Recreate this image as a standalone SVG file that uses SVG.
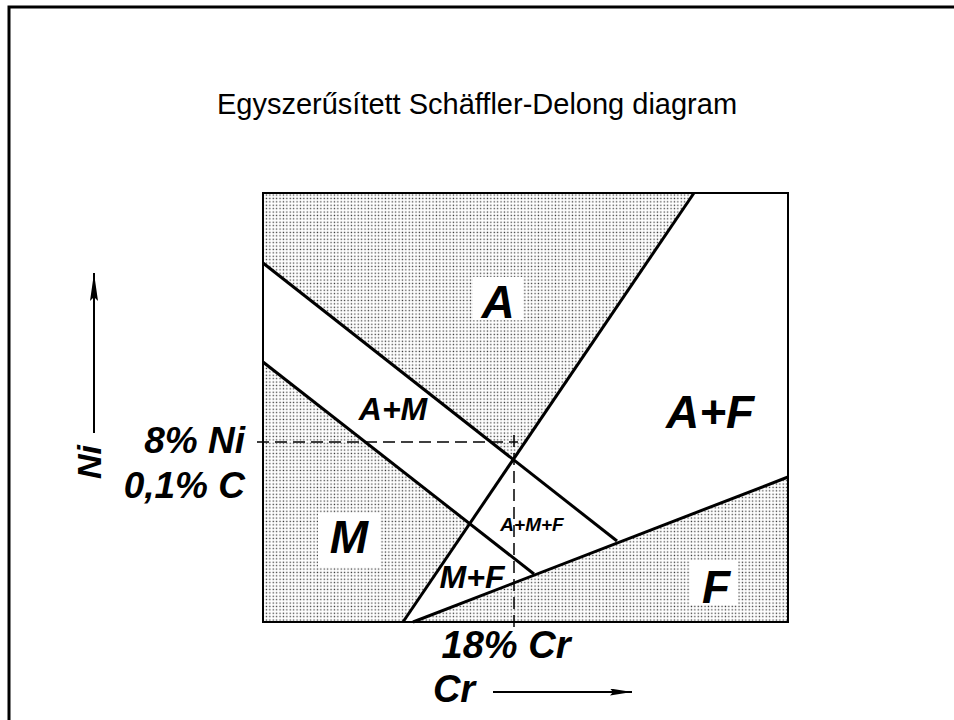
<svg xmlns="http://www.w3.org/2000/svg" width="954" height="720" viewBox="0 0 954 720">
  <defs>
    <pattern id="dots" width="3.4" height="3.4" patternUnits="userSpaceOnUse">
      <rect width="3.4" height="3.4" fill="#ffffff"/>
      <rect x="0.6" y="0.6" width="1.3" height="1.3" fill="#333"/>
    </pattern>
    <marker id="ah" viewBox="0 0 28 8" refX="28" refY="4" markerWidth="28" markerHeight="8" markerUnits="userSpaceOnUse" orient="auto">
      <path d="M0,0 L28,4 L0,8 L4,4 Z" fill="#000"/>
    </marker>
    <marker id="ah2" viewBox="0 0 22 7" refX="22" refY="3.5" markerWidth="22" markerHeight="7" markerUnits="userSpaceOnUse" orient="auto">
      <path d="M0,0 L22,3.5 L0,7 L3,3.5 Z" fill="#000"/>
    </marker>
  </defs>
  <style>
    .lbl { font-family: "Liberation Sans", Arial, sans-serif; font-style: italic; font-weight: bold; fill: #000; }
    .title { font-family: "Liberation Sans", Arial, sans-serif; font-size: 29px; fill: #000; }
    .bound { stroke: #000; stroke-width: 3; fill: none; stroke-linecap: butt; }
    .dash { stroke: #000; stroke-width: 1.5; fill: none; stroke-dasharray: 12 6; }
    .shade { fill: url(#dots); stroke: none; }
  </style>
  <rect width="954" height="720" fill="#fff"/>
  <path d="M9,724 L9,7 L960,7" fill="none" stroke="#000" stroke-width="3"/>
  <text class="title" x="477" y="114" text-anchor="middle">Egyszerűsített Schäffler-Delong diagram</text>

  <g id="regions">
    <polygon id="region-A" class="shade" points="263,193 694,193 513,458 263,263"/>
    <polygon id="region-M" class="shade" points="263,362 470,522 403,622 263,622"/>
    <polygon id="region-F" class="shade" points="413,622 788,477 788,622"/>
    <rect x="473" y="277" width="50" height="43" fill="#fff"/>
    <rect x="318" y="513" width="62" height="54" fill="#fff"/>
    <rect x="690" y="560" width="48" height="45" fill="#fff"/>
  </g>

  <g id="frame">
    <rect x="263" y="193" width="525" height="429" fill="none" stroke="#000" stroke-width="2"/>
  </g>

  <g id="connectors">
    <line class="bound" x1="694" y1="193" x2="403" y2="622"/>
    <line class="bound" x1="263" y1="263" x2="617" y2="541"/>
    <line class="bound" x1="263" y1="362" x2="534" y2="574"/>
    <line class="bound" x1="413" y1="622" x2="788" y2="477"/>
    <line class="dash" x1="257" y1="442" x2="518" y2="442"/>
    <line class="dash" x1="514" y1="435" x2="514" y2="628"/>
    <line stroke="#000" stroke-width="2" x1="94" y1="433" x2="94" y2="273" marker-end="url(#ah)"/>
    <line stroke="#000" stroke-width="2" x1="493" y1="692" x2="632" y2="692" marker-end="url(#ah2)"/>
  </g>

  <g id="label-A"><text class="lbl" x="498" y="318" font-size="46" text-anchor="middle">A</text></g>
  <g id="label-AF"><text class="lbl" x="710" y="428" font-size="46" text-anchor="middle">A+F</text></g>
  <g id="label-AM"><text class="lbl" x="393" y="420" font-size="32" text-anchor="middle">A+M</text></g>
  <g id="label-M"><text class="lbl" x="349" y="553" font-size="46" text-anchor="middle">M</text></g>
  <g id="label-AMF"><text class="lbl" x="532" y="531" font-size="19" text-anchor="middle">A+M+F</text></g>
  <g id="label-MF"><text class="lbl" x="472" y="588" font-size="32" text-anchor="middle">M+F</text></g>
  <g id="label-F"><text class="lbl" x="716" y="603" font-size="46" text-anchor="middle">F</text></g>

  <g id="axis-labels">
    <text class="lbl" x="245" y="453" font-size="37" text-anchor="end">8% Ni</text>
    <text class="lbl" x="245" y="498" font-size="37" text-anchor="end">0,1% C</text>
    <text class="lbl" x="0" y="0" font-size="34" transform="translate(101,479) rotate(-90)">Ni</text>
    <text class="lbl" x="506" y="658" font-size="38" text-anchor="middle">18% Cr</text>
    <text class="lbl" x="454" y="702" font-size="38" text-anchor="middle">Cr</text>
  </g>
</svg>
